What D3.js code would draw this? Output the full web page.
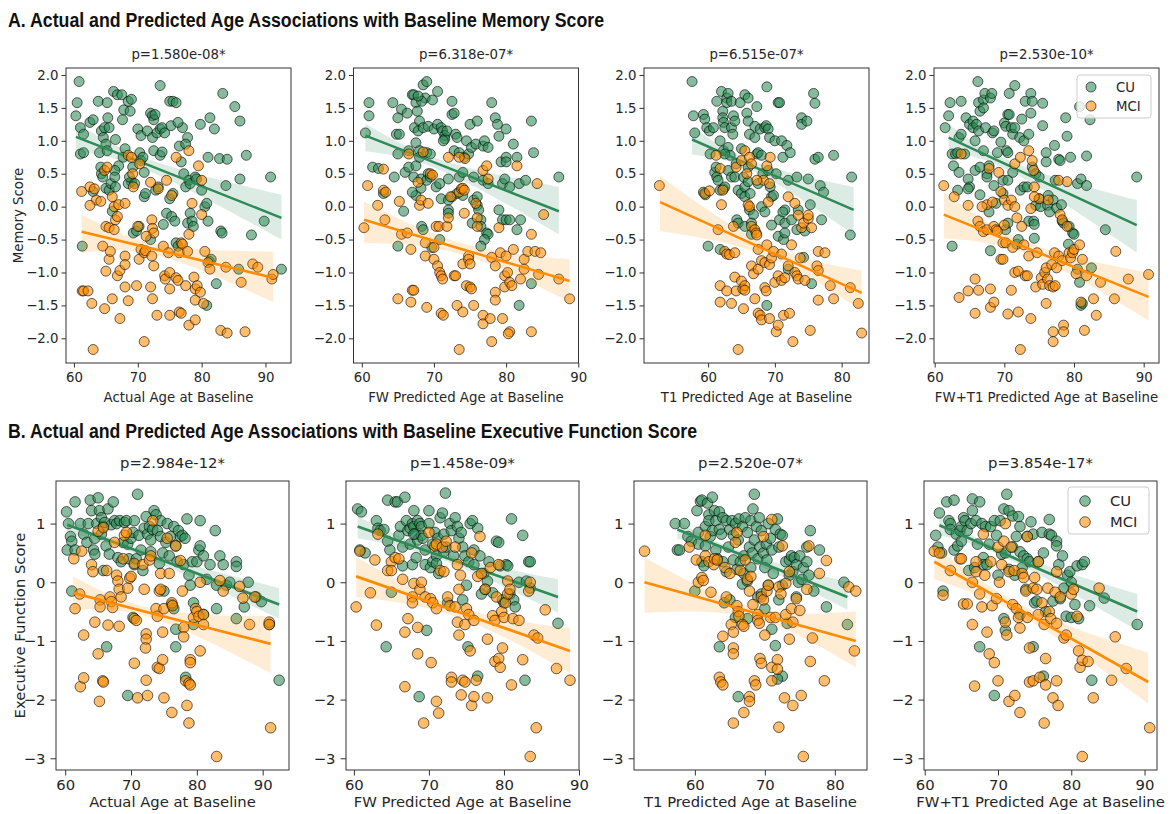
<!DOCTYPE html>
<html>
<head>
<meta charset="utf-8">
<script src="https://cdn.jsdelivr.net/npm/d3@7"></script>
<style>
  body { margin: 0; background: #fff; }
  svg text { font-family: "DejaVu Sans", Verdana, sans-serif; fill: #262626; }
  .section { font-family: "Liberation Sans Narrow", "Arial Narrow", "Liberation Sans", Arial, sans-serif; font-weight: bold; fill: #111; }
</style>
</head>
<body>
<svg id="chart" width="1172" height="814"></svg>
<script>
// ---------------------------------------------------------------
// data: [age, score]
// ---------------------------------------------------------------

// A. memory vs actual age
var memActualCU = [[60.8,1.9],[60.5,1.58],[60.3,1.38],[61,1.2],[61.5,1.1],[61,0.8],[61.5,0.82],[62.5,1.28],[63,1.32],[63.8,1.6],[64.3,1.15],[64.6,1.05],[64.8,1.2],[65.2,1.58],[65.3,1.35],[65.5,1.2],[65,0.95],[64,0.82],[64.2,0.6],[64.3,0.5],[64.5,0.45],[65,0.28],[65.5,0.25],[65.8,0.35],[65.2,0.85],[66.2,1.75],[66.8,1.7],[67.5,1.7],[66.5,1.02],[67.8,1.47],[67.6,1.32],[68,0.88],[67.7,0.75],[67,0.62],[66.4,0.55],[66.4,0.45],[66,-0.07],[68.5,1.6],[69,1.63],[68.8,1.45],[69.2,0.6],[69,0.38],[68.5,0.35],[68.7,0.45],[69.5,0.35],[69.3,-0.4],[69.8,-0.37],[70,1.18],[70.5,1.08],[70.3,0.82],[70.5,0.7],[70.8,0.75],[71,0.52],[71,0.15],[71.2,0.2],[70.2,-0.3],[71.5,1.15],[72,1.42],[72.3,1.38],[72.5,1.32],[72.7,1.4],[72.3,1.05],[72,-0.5],[72.5,0.85],[72.8,0.25],[73.2,0.3],[73.5,1.84],[73,1.12],[73.5,1.18],[73.8,1.2],[74.2,1.12],[73.5,0.78],[73.8,0.83],[74,-0.27],[74.5,-0.1],[75,1.6],[75.5,1.6],[75.2,1.23],[76,1.58],[75,0.12],[75.3,-0.15],[75.5,0.2],[75.8,-0.22],[76,-0.55],[76.3,-0.6],[76.5,0.92],[76.8,0.68],[77,1.2],[77.2,0.5],[77.5,0.3],[77.8,1.05],[77.5,0.95],[78,0.4],[78.2,0.35],[77.8,-0.25],[78.2,-0.1],[78.5,-0.22],[78.7,-0.3],[79,0.45],[79.2,0.42],[79.8,1.25],[80,0.25],[80.5,0],[80.8,0.05],[81,0.75],[81,-0.22],[81.3,1.35],[81.2,-0.83],[81.5,-0.8],[80.8,-1.5],[82,1.18],[82.3,-1.17],[82.8,0.73],[83,-0.37],[83.2,-0.4],[83.3,1.72],[83.8,0.32],[84,0.72],[85.2,1.52],[86,1.3],[86,0.42],[85.8,-0.95],[87,0.78],[87.8,-0.43],[89.8,-0.22],[90.8,0.45],[92.5,-0.95],[61.3,-0.6],[63,0.23],[66.5,0.3],[76.3,1.28]];
var memActualMCI = [[61.2,0.23],[62.5,0.3],[63.5,0.1],[62.5,0.02],[63.2,0.27],[64.2,0.08],[64.8,0.55],[65.2,0.6],[65,-0.3],[65.5,-0.32],[66,0.15],[66.3,0],[66.5,-0.2],[66.8,-0.15],[66.3,-0.35],[67,0.03],[68,0.05],[68.5,0.78],[69,0.75],[69.2,0.5],[69.3,0.3],[70,-0.3],[70.3,0.65],[70.5,-0.65],[70.2,-0.8],[71,-0.7],[71.2,-0.67],[72,0.37],[72.2,-0.2],[72.3,-0.33],[72.5,-0.4],[72.2,-0.75],[72.5,-0.9],[72,-1.22],[72.3,-1.4],[73,-1.65],[73.2,0.27],[74,-0.6],[74.2,-1.05],[74.3,-1.1],[74.5,0.4],[74.8,-0.7],[75,-1.0],[75,-1.25],[75.3,0.17],[75,-1.65],[76,0.75],[76,-1.08],[76.3,-1.12],[76.5,-0.7],[76.5,-1.6],[76.8,-1.62],[76.8,-0.55],[77,-0.57],[77.5,-1.2],[77.8,-0.68],[78,0.85],[78,-0.42],[78,-1.8],[78.5,0.05],[78.8,-1.07],[79,-1.25],[79,-1.42],[79,-1.72],[79.3,-1.2],[79.5,0.62],[79.8,-1.3],[80,-0.12],[80,0.4],[80.3,-1.47],[80.5,-0.68],[81,-0.85],[81.3,-0.95],[61.3,-1.28],[61.5,-1.28],[62.2,-1.28],[62.8,-1.47],[63,-2.17],[64.5,-0.6],[64.8,-1.55],[65,-0.98],[65.5,-0.8],[65.7,-0.68],[66,-1.4],[66.8,-1.05],[67.2,-0.97],[67.2,-1.7],[68,-0.75],[68,-0.88],[68,-1.22],[68.5,-1.43],[69.8,-1.2],[71,-2.05],[83,-1.88],[83.8,-0.92],[84,-1.92],[86.2,-1.15],[86.8,-1.9],[88,-0.87],[88.8,-0.92],[91,-1.1],[91.2,-1.03],[71.3,-0.45]];

// A. memory vs FW predicted age
var memFwCU = [[60.5,1.12],[61,1.58],[61,1.38],[61.5,0.6],[62.3,0.58],[63,0.2],[64.3,1.58],[64.5,0.45],[64.8,1.1],[65,1.35],[65,0.8],[65.2,1.1],[65.5,1.48],[65.8,-0.07],[66,0.52],[66.3,1.42],[66.5,0.85],[66.5,0.6],[67,1.7],[67.2,1.7],[67.5,1.58],[67.3,1.2],[67.5,0.97],[67.5,0.62],[67.2,0.45],[67.5,0.17],[67,0.22],[67.7,1.45],[68,1.3],[67.8,1.15],[68,0.85],[68,0.75],[68.2,0.28],[68.5,1.85],[68.8,1.65],[68.3,1.6],[68.5,1.2],[68.2,0.42],[68.3,-0.3],[68.5,-0.35],[69,1.9],[69.2,1.22],[69,0.82],[69.2,0.5],[69,0.4],[69.5,0.8],[69.5,0.45],[69.8,1.62],[70,1.18],[70.5,1.75],[70.5,1.25],[70.3,0.3],[70.8,0.35],[71,1.2],[71,0.12],[71.2,1.15],[71.5,1.08],[71.5,1.03],[71.8,1.15],[72,0.42],[72,0.1],[72,-0.05],[72,-0.1],[72.5,1.6],[72.5,1.4],[72.8,1.42],[72.5,0.15],[72.8,0.85],[73,1.1],[73.2,1.05],[73.5,0.82],[73.5,0.45],[73.2,0.2],[74,0.52],[74,0.17],[74.2,0.75],[74.5,1.0],[74.8,0.8],[75,1.25],[75.2,0.9],[75.5,0.45],[75.5,0.1],[75.3,-0.25],[75.8,0.95],[76,1.3],[76,0.02],[76,0.15],[76.2,-0.05],[76.5,-0.2],[76.8,0.4],[76.5,-0.3],[76.8,0.92],[77,1.0],[77.5,0.9],[77.3,-0.4],[77.5,-0.42],[77,-0.5],[76.5,-0.6],[77.5,0.35],[78,1.58],[78.5,1.35],[78.8,1.25],[79,1.07],[79.3,0.68],[79.5,0.35],[79.8,0.42],[80,1.18],[80,0.75],[80,0.68],[80.5,0.3],[79.5,-0.2],[80,-0.2],[80.5,-0.2],[79,-0.05],[81,0.95],[81.5,0.75],[81.8,0.35],[81.5,-0.35],[82,-0.2],[81.8,-1.5],[82.7,0.4],[83.5,1.3],[83.8,0.82],[83.5,-1.17],[87.3,0.45],[65,-0.6],[70.8,-0.5],[69.7,-0.62],[71.3,1.0],[67.8,1.68]];
var memFwMCI = [[60.3,-0.32],[60.8,0.32],[62.2,0.02],[63,0.57],[63,0.25],[63.2,-0.2],[63.3,0.22],[65.2,0.08],[65.5,-0.42],[66.3,-0.4],[66.5,0.8],[66.8,-0.65],[67,-1.27],[67.2,-1.27],[66.8,-1.45],[65,-1.4],[67.8,0.37],[68,0.02],[68.2,0.1],[68.5,0.83],[68.8,-0.55],[68.8,-0.75],[69.2,0.05],[69,-1.53],[69.5,0.5],[69.8,0.48],[70,-0.62],[70,-0.8],[70.3,-0.3],[70.5,-0.9],[70.7,-0.3],[70.8,-1.0],[71,-1.05],[71.2,-1.1],[71,-1.62],[71.3,-1.65],[71.8,-0.3],[72,0.75],[72,-0.17],[72.3,0.15],[72.8,-1.05],[73,-1.05],[73.2,-1.5],[73.5,-2.17],[73.5,0.22],[73.8,0.27],[74,0.28],[74,-0.87],[74.2,-0.1],[74.3,0.73],[74.5,-1.2],[74.8,-0.75],[74.8,-0.8],[75,-0.87],[75,-1.22],[75.2,-1.25],[75.5,-1.5],[75.8,0.05],[76,-0.17],[76,-0.3],[74,-1.6],[76.8,0.55],[76.8,-1.65],[76.8,-1.78],[77.3,0.62],[77.5,0.42],[77.8,-1.7],[78,-2.05],[78,-0.77],[78.5,-0.9],[78.5,-1.3],[78.5,-1.42],[79,-0.32],[79.2,-0.7],[79.5,-1.7],[79.8,-1.05],[79.8,-1.22],[80,-0.75],[80.2,-1.0],[80.5,-1.15],[80.5,-1.9],[80.3,-1.93],[80.8,-1.2],[81,-0.65],[81.5,0.62],[82,-1.1],[82.5,-0.8],[82.5,-0.95],[83,-0.68],[83.5,-0.42],[83.5,-1.9],[84,-0.68],[84.3,0.35],[84.5,-1.03],[84.8,-0.7],[85.2,-0.12],[87.3,-1.1],[88.8,-1.4],[73.5,0.75],[74.2,0.25]];

// A. memory vs T1 predicted age
var memT1CU = [[57.6,1.9],[57.8,1.38],[58,1.12],[59.3,1.4],[59.5,1.33],[59.8,1.2],[60.2,1.15],[59.3,0.22],[59.6,0.18],[60,-0.6],[60.3,0.8],[60.8,1.2],[61,0.52],[61.2,0.6],[61.3,0.45],[61.5,0.4],[61.3,1.6],[61.8,1.0],[61.8,0.25],[61.8,-0.65],[62,1.75],[62.2,1.45],[62.2,1.35],[62.3,1.28],[62.5,1.2],[62.3,0.85],[62.3,0.27],[62.5,0.3],[62.8,1.65],[62.8,1.58],[63,1.72],[63,0.9],[63.3,0.78],[63.5,1.6],[63.5,1.2],[63.7,1.1],[63,0.55],[63.8,1.38],[63.5,0.45],[64,1.3],[64,0.45],[64.2,0.65],[64.3,-0.2],[64.5,0.25],[64.5,-0.25],[64.8,1.58],[65,0.88],[65,0.2],[65.3,0.45],[65.5,1.7],[65.8,1.42],[65.5,0.3],[65.5,0.15],[65.5,-0.3],[66,1.65],[66,1.3],[66.2,1.1],[66,0.38],[66.3,0.2],[66.2,-0.05],[66.8,-0.12],[66.5,-0.25],[66.5,-0.42],[67,1.22],[67,1.05],[67.3,0.8],[67.5,0.82],[67.5,0.35],[67.3,1.52],[67.8,1.18],[68,0.78],[68,0],[68.2,0.5],[68.5,1.2],[68.7,1.23],[68.8,1.82],[68.5,-0.08],[69,1.18],[69,0.55],[69.2,1.05],[69.3,0.3],[69.5,0.15],[69.5,-0.28],[69.8,0.17],[70,1.0],[70.2,0.5],[70.5,1.58],[70.7,1.58],[70.5,-0.45],[70.7,-0.2],[71,1.0],[71.2,0.75],[71.3,-0.5],[71.5,-0.05],[71.5,-0.25],[71.8,0.93],[71.2,-0.08],[71.5,-0.4],[72,0.4],[72,-0.95],[72.3,0.82],[72.5,-0.2],[73.3,0.45],[73.5,-0.05],[73.3,-0.35],[74,1.35],[74,1.25],[74.5,-0.37],[74.3,-0.77],[74.8,1.3],[75,0.42],[75.3,0.03],[75.8,1.72],[76,1.57],[75.5,-1.17],[76,0.72],[76.5,0.75],[76.8,0.32],[77,-0.2],[77.3,0.22],[78.8,0.78],[81.5,0.45],[81.3,-0.43],[68.8,-1.5],[62.5,0.8],[66,0.6]];
var memT1MCI = [[52.7,0.32],[59.5,0.2],[60.2,0.24],[61.5,-0.35],[61.2,0.78],[61.8,0.58],[62,0.03],[62.2,0.25],[62.5,-0.68],[62.8,-0.72],[63.2,-0.73],[63.8,-0.3],[64,-0.7],[64.2,0.6],[61.8,-1.2],[61.8,-1.45],[62.8,-1.28],[63.5,-1.47],[64,-1.07],[64.2,-1.28],[64.5,-2.17],[65,-1.13],[65.2,-1.25],[65.5,-1.2],[65.5,-1.27],[65.3,-1.55],[65,0.7],[65.5,0.85],[65.8,0.5],[66,0.03],[66.2,0],[66.2,0.75],[66.5,-0.3],[66.5,-0.9],[66.8,-1.02],[67,-1.4],[67,-0.35],[67.2,-0.4],[67.3,-0.43],[67.5,-0.65],[67.5,-0.95],[67.5,-1.62],[67.8,-1.65],[68,-1.72],[68,-0.82],[68.3,0.4],[68.5,-0.85],[68.5,-1.23],[68.7,-1.28],[68.8,0.62],[69,0.07],[68.8,-0.58],[69.2,-0.88],[69.3,0.75],[69.2,0.35],[69.5,-0.78],[69.2,-1.7],[69.8,-0.68],[70,-1.15],[70.2,-1.9],[70.5,-1.8],[70.5,-1.05],[71,-0.72],[71,-1.12],[71.3,-1.65],[71.5,-1.08],[72,0.15],[72,-0.9],[72.2,-1.62],[72.5,-0.58],[72.7,-2.05],[73,0.05],[73,-1.0],[73.3,-1.05],[73.5,-0.13],[73.5,-1.1],[73.8,-0.78],[74,-0.32],[74.3,-0.25],[74.5,-1.12],[75,-0.18],[75,-0.13],[75.3,-1.88],[75.5,-0.32],[76.3,-0.9],[76.5,-0.97],[76.5,-1.42],[76.5,-0.68],[77.5,-0.7],[78.3,-1.2],[78.8,-1.4],[81.3,-1.23],[82.5,-1.47],[83,-1.92],[66.5,0.65],[67.3,0.4]];

// A. memory vs FW+T1 predicted age
var memBothCU = [[61.5,1.2],[62.2,1.58],[62,1.38],[62.5,0.8],[62.7,0.62],[63,0.8],[63.3,0.82],[63.3,0.25],[63.5,1.05],[63.8,1.6],[63.8,1.1],[63.5,0.52],[62.5,-0.6],[64.3,0.8],[64.5,1.35],[64.8,0.42],[65,0.3],[64.8,0.27],[65,1.25],[65.5,1.3],[65.5,1.2],[65.8,1.0],[65.8,0.55],[66.2,1.9],[66,1.25],[66.3,1.58],[66.5,1.45],[66.3,1.15],[66.5,0.6],[66.5,0.18],[67,1.62],[67,1.5],[67.2,1.72],[67,0.85],[67.3,1.2],[67.5,0.5],[67.5,0.45],[67.8,0.62],[67.8,-0.08],[68,1.65],[68.2,1.72],[68,-0.67],[68.3,1.12],[68.5,1.15],[68.5,0.32],[68.8,0.05],[69,0.82],[69.5,0.98],[69.8,0.4],[69.8,0.2],[70,1.27],[70.2,1.22],[70.5,1.4],[70.3,0.85],[70.5,0.82],[70.5,0.4],[70.2,-0.35],[70.5,-0.25],[70.7,1.72],[70.7,1.4],[71,1.2],[71.2,1.1],[71.2,0.52],[71.5,1.84],[71.5,1.2],[71.8,-0.57],[72,-0.5],[72.2,1.05],[72.3,0.25],[72.5,1.33],[72.8,1.0],[72.8,0.3],[73,1.6],[73.3,0.3],[73.5,1.1],[73.5,-0.22],[73.8,1.42],[73.8,1.72],[74,1.6],[74,0.6],[74.2,-0.22],[74.3,-0.27],[74.5,0.5],[74.5,0.02],[74.3,-0.48],[75,0.45],[75,0.12],[75.2,0],[75.5,1.23],[75.5,1.57],[76,0.82],[76,0.68],[76.3,0.17],[76.2,0.02],[76.5,-0.08],[77,0.1],[77.2,0.93],[77.3,0.4],[77.5,-0.02],[77.8,0.72],[78,0.7],[78.2,0.03],[78.3,-0.22],[78.5,-0.25],[78.8,1.35],[79,1.07],[79.2,-0.57],[79.5,0.75],[79.3,-0.3],[79.8,-0.4],[80,-0.42],[80.5,0.35],[80.5,-0.95],[80.8,1.52],[80.8,-1.15],[81,0.42],[81,-1.5],[81.2,-1.47],[81.8,0.32],[81.8,0.77],[82.3,1.32],[82.5,-0.93],[84.5,-0.35],[89,0.45]];
var memBothMCI = [[61.3,0.32],[62.8,0.15],[63.8,0.8],[64.8,0.02],[63.5,-1.38],[64.8,-1.28],[65.8,-1.62],[65.8,-1.1],[66.3,-1.27],[66.2,-0.22],[66.5,-0.3],[67,-0.38],[67.5,-0.35],[67.5,0.03],[67.8,0.58],[68,-1.25],[68,-1.53],[68.3,0.07],[68.5,-1.45],[68.5,-0.3],[68.8,-0.35],[69,-0.37],[69.2,0.52],[69.5,0.23],[69.5,-0.8],[69.8,-0.8],[69.8,-0.55],[70,0.1],[70,-0.28],[70.2,-0.55],[70.5,0.02],[70.5,-1.63],[71,0.1],[71,-1.27],[71.2,-0.62],[71.5,0.65],[71.5,0.0],[71.5,-1.0],[71.8,-0.17],[72,-0.98],[72.3,0.75],[72,-1.6],[72.3,-2.17],[72.5,-0.3],[72.8,-0.58],[73,-1.05],[73.3,-1.05],[73.5,0.85],[73.5,-0.75],[73.8,-1.7],[73.8,-0.03],[74,0.7],[74.2,0.55],[74.3,0.3],[74.5,-1.22],[74.7,-0.7],[75,0.12],[75.3,-1.08],[75.5,-1.18],[75.8,-1.0],[76,-0.93],[76,-1.47],[76.2,-1.1],[76.3,0.1],[76.5,-1.2],[76.8,-0.88],[77,-1.22],[77.2,-0.7],[77.3,-1.2],[77.5,-0.93],[77,-1.9],[77,-2.05],[77.8,-0.75],[77.8,0.4],[78,-0.12],[78.3,-0.2],[78.3,-0.82],[78.5,-1.8],[78.5,-1.9],[79,0.38],[79,-0.3],[79.3,-0.7],[79.5,-0.78],[79.8,-0.7],[80,-0.65],[80.3,-1.02],[80.8,-0.58],[81,-1.45],[81.2,-0.8],[81.5,-1.88],[81.8,-1.05],[82.8,-1.4],[83.2,-1.65],[83.8,-1.15],[86,-0.68],[85.8,-1.4],[87.8,-1.1],[90.7,-1.03],[74.3,0.15],[66.8,0.0]];

// B. executive function vs actual age
var execActualCU = [[60.2,1.2],[60.3,0.55],[60.5,1.0],[60.8,0.78],[61,0.7],[61.5,0.55],[61.5,1.37],[62.3,1.0],[62.8,0.82],[63.3,0.68],[63.5,1.0],[63.8,1.4],[64,1.22],[64.3,0.55],[64.5,0.48],[64.5,0.75],[64.8,1.0],[65,1.44],[65.2,1.22],[65.5,1.1],[65.5,0.82],[65.8,0.95],[65.8,0.2],[66,1.02],[66.2,0.62],[66.5,1.25],[66.7,0.48],[67,0.98],[67.3,1.37],[67.5,1.05],[67.8,1.0],[68,0.42],[68.3,1.05],[68.5,0.35],[68.8,0.68],[69,1.02],[69.3,1.05],[69.5,0.65],[69.7,0.4],[70,0.75],[70.3,0.85],[70.5,1.05],[70.5,0.3],[70.8,0.4],[71,1.5],[71.2,0.8],[71.5,0.55],[71.8,0.2],[72,0.92],[72.3,1.12],[72.5,0.82],[72.8,0.95],[73,0.72],[73,0.52],[73.3,0.9],[73.5,1.22],[73.8,1.15],[74,0.88],[74.3,0.32],[74.5,1.05],[74.5,0.78],[74.8,0.5],[75,-0.15],[75.3,0.68],[75.5,1.0],[75.8,0.45],[76,0.78],[76.2,-0.38],[76.5,0.95],[76.5,-0.45],[76.8,0.62],[77,0.35],[77.2,0.88],[77.5,0.78],[77.8,0.8],[78,0.3],[78.2,0.75],[78.5,1.08],[78.8,0.12],[79,-0.05],[79.3,0.35],[79.5,-0.35],[80,0.35],[80.3,0.55],[80.5,1.05],[80.5,0.62],[81,0.45],[81,-0.55],[81.5,0.05],[82,0.3],[82.8,0.88],[83,-0.05],[83,-0.45],[83.5,0.45],[84,0.3],[84.5,-0.05],[85,0.0],[86,0.35],[86,0.27],[86,-0.62],[87.2,-0.42],[87.8,0.0],[89,-0.25],[89.8,-0.33],[91,-0.72],[92.5,-1.67],[66.3,-1.1],[69.5,-1.93],[76.8,-1.1],[76.8,-0.8],[78.3,-1.62],[61,-0.15],[79.5,-0.72],[70.3,-0.6]];
var execActualMCI = [[61.3,0.4],[61.5,-0.45],[62.2,-0.2],[62.3,-1.78],[62.8,-0.9],[62.8,-1.63],[62.5,0.53],[64,0.3],[64.2,0.18],[64.5,-0.68],[65,0.87],[65.3,-0.3],[65.3,-0.42],[65,-1.22],[65.2,-2.03],[65.7,-1.68],[65.8,-1.7],[66.3,0.2],[66.5,-0.73],[66.8,-0.25],[67,-0.33],[67.2,-0.43],[67.8,0.12],[68,0.02],[68.2,-0.12],[68.2,-0.75],[68.5,-0.25],[68.8,0.4],[69,0.8],[69.3,0.85],[69.5,-0.1],[69.8,0.07],[70,0.1],[70.5,0.32],[70.5,-0.62],[70.8,-0.65],[70.5,-1.38],[71,-1.97],[71.8,0.3],[72,-0.12],[72.3,-0.88],[72.3,-0.97],[72.2,-1.12],[72.3,-1.67],[72.5,-1.93],[72.8,0.38],[73,0.45],[73.3,1.05],[73.8,-0.45],[74,-0.58],[74,-1.45],[74.3,-1.47],[74.3,-0.15],[74.5,-0.12],[74.5,0.15],[74.8,-1.32],[74.8,-0.85],[75,-0.45],[75,-1.97],[75.5,0.75],[75.8,0.15],[76.2,-0.35],[76.3,-0.4],[76.2,-2.22],[76.8,0.62],[77.5,0.37],[77.8,-0.15],[78,-0.77],[78,-0.93],[78.3,-1.68],[78.5,-2.1],[78.8,-1.72],[79,-1.75],[79,-1.32],[79,-1.37],[78.8,-2.4],[79.5,-0.6],[79.8,-0.45],[80,-0.5],[80.3,-0.58],[80.5,0.0],[80.5,-1.17],[81,-0.55],[81,-0.72],[83,-2.97],[83.5,0.03],[84,-0.15],[86.5,-0.07],[87,-0.27],[88,-0.72],[88.8,-0.25],[91,-0.68],[91,-0.72],[91.2,-2.48],[67.5,0.68],[65.8,0.93]];

// B. executive function vs FW predicted age
var execFwCU = [[60.5,1.25],[61,1.2],[61.5,0.5],[60.8,0.55],[63,1.05],[63.2,0.92],[63.5,0.88],[64,0.9],[64.3,-1.1],[64.5,1.4],[64.5,0.7],[64.8,0.55],[65,-0.17],[65.5,1.37],[65.8,1.37],[66,0.8],[66.2,0.95],[66.5,0.6],[66.5,0.28],[66.8,1.45],[67,1.05],[67.2,0.88],[67.5,0.92],[67.5,0.65],[67.8,1.0],[67.8,0.3],[68,1.22],[68,0.95],[68.2,0.82],[68.3,0.42],[68.5,1.05],[68.5,0.72],[68.8,1.0],[68.7,-1.95],[69,0.95],[69,0.8],[69.2,0.75],[69.5,0.55],[69.5,0.3],[69.7,-0.82],[70,1.0],[70,1.22],[70.2,0.25],[70.5,0.65],[70.5,0.35],[70.8,0.85],[71,0.45],[71.2,0.75],[71.3,0.15],[71.5,1.1],[71.8,1.18],[72,0.82],[72,0.52],[72.2,1.52],[72.3,0.6],[72.5,-0.35],[72.8,1.0],[73,0.88],[73.3,0.45],[73.5,1.1],[73.8,0.95],[74,0.75],[74.3,0.85],[74.5,0.6],[74.8,0.45],[74.5,-0.3],[75,-0.05],[75.2,-1.1],[75.3,0.35],[75.5,1.0],[75.8,1.05],[76,0.55],[76,0.3],[76.5,0.92],[76.8,0.45],[77,-0.2],[77.3,0.15],[77.5,-0.12],[77.8,0.02],[78,0.35],[78.5,-0.18],[79,0.7],[79.3,0.68],[79.5,0.28],[79.8,-0.3],[80,-0.35],[80.3,0.3],[80.5,0.28],[80.8,-0.2],[81,1.08],[81.3,-0.3],[81.5,-0.42],[82,0.0],[82.5,0.8],[82.8,-1.67],[83.3,0.35],[83.5,0.35],[83.5,-0.1],[83,0.02],[76.5,-1.6],[87.2,-0.7],[68,0.82],[71,0.32]];
var execFwMCI = [[60.3,-0.42],[60.8,0.53],[62.2,-0.18],[62.8,0.38],[63,-0.73],[63.2,0.82],[64.5,0.2],[65,0.35],[65,0.2],[65.5,0.42],[66,0.4],[66.5,0.05],[66.8,-0.85],[66.8,-1.78],[67.2,-0.62],[67.8,-0.25],[67.8,-0.35],[68,-0.02],[68.5,-0.77],[68.5,-1.22],[68.8,-0.12],[69,0.0],[69.5,-0.25],[69.3,-2.4],[70,0.85],[70.2,-0.28],[70.3,-1.37],[70.5,-0.35],[70.8,0.62],[71,0.65],[71,-0.45],[71,-2.03],[71.3,-2.23],[71.5,0.2],[71.8,0.6],[72,0.18],[72.3,0.7],[72.5,-0.25],[72.8,-0.4],[73,-1.62],[73,-1.7],[73.5,0.6],[73.5,-0.42],[73.8,0.3],[73.8,-0.68],[74,-0.9],[74.2,0.12],[74,-0.12],[74.3,-1.92],[74.5,-1.67],[74.8,-1.7],[74.8,-0.72],[75,-0.45],[75.3,-0.55],[75.5,-1.17],[75.7,-2.1],[76,-0.65],[76,-1.95],[76.3,-1.67],[76.5,0.1],[76.8,0.78],[77,0.15],[77.5,-0.12],[77.8,-0.97],[77.8,-1.97],[78.2,0.25],[78.5,-0.57],[78.8,-0.65],[79,-0.25],[78.8,-1.35],[79.3,-1.3],[79.5,-1.45],[79.3,0.3],[79.7,-0.5],[79.8,-1.12],[80,-0.6],[80.2,-0.35],[80.5,0.02],[80.5,-0.2],[80.8,-0.12],[81,-1.75],[81.2,-0.62],[82,-0.65],[82.5,-1.32],[83.3,-0.15],[83.5,0.0],[83.5,-2.97],[84,-0.9],[84.3,-2.48],[84.5,-0.95],[85.5,-0.47],[87,-1.47],[88.8,-1.67],[75.7,0.5]];

// B. executive function vs T1 predicted age
var execT1CU = [[57.2,1.0],[57.5,0.55],[57.8,0.55],[58.5,1.0],[59,0.78],[59.5,0.7],[60,-0.15],[60.3,1.22],[60.5,0.85],[60.5,0.65],[60.8,1.38],[61,1.4],[61,0.35],[61.3,0.28],[61.5,0.95],[61.5,0.62],[61.8,1.35],[62,1.15],[62,1.05],[62.2,0.78],[62.5,1.45],[62.5,0.88],[62.8,1.22],[63,1.05],[63,0.55],[63.2,0.4],[63.5,1.2],[63.5,0.9],[63.5,-1.1],[63.8,0.82],[64,1.1],[64,0.35],[64.2,-0.35],[64.5,1.05],[64.5,0.18],[64.8,0.6],[65,0.9],[65,-0.3],[65.3,1.05],[65.5,0.38],[65.5,0.8],[65.8,1.0],[65.8,-0.6],[66,0.22],[66.2,0.72],[66.3,1.08],[66.5,0.35],[66.2,-1.95],[66.8,0.95],[66.8,-0.03],[67,0.45],[67,0.15],[67.2,1.1],[67.5,0.85],[67.5,0.02],[67.5,-0.62],[67.8,0.6],[68,1.05],[68,0.25],[68.2,0.5],[68.5,1.5],[68.3,1.25],[68.5,0.72],[68.8,0.95],[69,0.4],[69,-0.25],[69.2,1.1],[69.3,0.6],[69.5,0.88],[69.5,-0.2],[69.8,0.5],[70,0.25],[70,-0.45],[70.2,0.65],[70.3,0.38],[70.5,1.0],[70.5,-0.05],[70.8,0.75],[71,0.55],[71,-0.8],[71.2,0.15],[71.5,-1.08],[71.5,0.9],[71.8,1.08],[72,0.6],[72,-0.3],[72.2,0.82],[72.5,0.8],[72.5,-0.05],[72.5,-1.6],[71.8,-1.65],[73,0.35],[73.2,-0.7],[73.5,0.38],[73.5,0.12],[73.8,0.45],[74,0.18],[74.2,0.42],[74.5,0.3],[74.5,-0.25],[74.8,0.0],[75,0.45],[75.3,0.05],[75.5,0.25],[76,0.6],[76,0.35],[76.3,0.12],[76.5,0.88],[77,-0.15],[77.8,0.55],[78.8,-0.42],[81.3,0.0],[81.8,-0.72]];
var execT1MCI = [[52.8,0.53],[59.2,0.6],[60.2,0.38],[60.5,0.0],[61,0.08],[61.2,0.03],[61.5,0.8],[61.5,0.45],[62,0.35],[62.3,-0.17],[62.7,0.3],[62.8,0.4],[63.2,0.38],[63.5,-1.62],[63.7,-1.7],[64,-1.75],[64,-0.92],[64.3,0.25],[64.5,-0.25],[65,0.15],[65.2,-0.72],[65.5,-0.85],[65.5,-1.12],[65.5,-1.22],[65.5,-2.4],[65.8,0.68],[66,0.85],[66,-0.4],[66.2,-0.5],[66.3,-0.58],[66.5,0.2],[66.8,-0.72],[67,-0.75],[67,-2.22],[67.2,0.38],[67.5,0.05],[67.8,-0.15],[67.8,-1.95],[67.8,-2.03],[68,0.1],[68.3,-0.38],[68.5,-1.68],[68.7,-1.75],[69,-0.55],[69,-0.65],[69.2,-0.7],[69.3,-1.3],[69.5,-0.25],[69.5,-1.38],[69.8,-0.3],[69.8,0.78],[70,-0.9],[70.3,-0.15],[70.5,-0.05],[70.8,-0.6],[71,-1.45],[71,-1.68],[71.5,-0.6],[71.8,-1.32],[71.8,-1.48],[72,-0.08],[72,-2.47],[72.3,-0.2],[72.8,-1.97],[73,-0.02],[73,-0.55],[73.5,-0.97],[73.5,0.18],[73.8,-0.45],[74,-0.68],[74,-2.1],[74.5,-0.28],[75,-0.48],[75.2,-1.93],[75.5,-2.97],[76,-0.12],[76.3,0.62],[76.5,-1.35],[76.8,-0.95],[77.8,0.15],[78.5,-1.68],[78.8,0.37],[82,-0.08],[83,-0.15],[82.8,-1.17],[71,1.07],[72.5,0.62]];

// B. executive function vs FW+T1 predicted age
var execBothCU = [[61.5,0.8],[61.8,0.6],[62,1.18],[62.3,0.5],[62.5,-0.15],[63,1.37],[63.3,1.05],[63.5,1.0],[63.5,0.9],[64,1.4],[64,0.55],[64.3,0.82],[64.5,0.62],[64.8,0.88],[65,0.95],[65,0.7],[65.3,1.1],[65.5,1.05],[65.8,0.88],[66,0.2],[66.3,1.0],[66.5,1.42],[66.5,1.22],[66.8,0.25],[67,1.05],[67.2,0.65],[67.5,-1.1],[67.5,1.37],[67.8,1.0],[68,0.42],[68,0.3],[68.3,0.95],[68.5,0.3],[68.8,0.65],[69,0.95],[69.5,1.05],[69.5,-1.93],[69.8,0.8],[70,0.12],[70.3,1.05],[70.5,0.48],[70.8,1.25],[70.8,-0.62],[71,0.5],[71,-0.82],[71.2,1.5],[71.5,1.22],[71.5,0.22],[72,1.13],[72,0.6],[72.3,0.12],[72.5,0.78],[72.8,1.12],[73,0.95],[73,0.52],[73.3,0.25],[73.5,0.45],[73.8,-0.12],[74,0.4],[74,0.78],[74.3,0.35],[74.5,1.03],[74.8,0.82],[75,-0.35],[75.3,-0.32],[75.5,0.35],[76,0.85],[76.2,0.5],[76.2,-1.6],[76.5,-0.5],[77,1.07],[77,0.82],[77.3,0.8],[77.5,-0.32],[78,0.7],[78,0.62],[78.3,0.3],[78.5,-0.28],[78.8,0.45],[79,-0.1],[79.3,-0.58],[79.5,0.12],[79.8,0.18],[80,0.0],[80,-0.6],[80.5,-0.38],[80.8,0.28],[81,-0.62],[81.5,0.3],[81.8,0.35],[82.5,-0.4],[82.8,-1.67],[84.5,-0.27],[89,-0.72],[74.8,-1.1],[73,-0.55]];
var execBothMCI = [[61.3,0.53],[62,0.5],[62.5,-0.22],[63.5,0.2],[64.8,0.4],[65,0.4],[65.3,-0.37],[65.8,-0.37],[66.5,0.0],[66.5,-0.72],[66.8,-1.77],[67,0.35],[67,0.18],[67.5,-0.2],[67.8,-0.42],[68,0.82],[68.2,0.12],[68.5,-0.85],[68.8,-1.22],[69,0.35],[69.2,-0.4],[69.5,-1.37],[69.8,-0.28],[70,0.6],[70,-1.68],[70.2,0.0],[70.5,0.3],[70.8,0.7],[71,-0.68],[71.2,-0.9],[71.5,0.18],[71.5,-2.03],[71.8,0.6],[72,-0.38],[72.2,0.2],[72.3,-1.93],[72.5,-0.45],[72.8,-0.6],[73,-0.78],[73,-2.22],[73.3,0.15],[73.5,0.08],[73.8,-0.15],[74,0.78],[74,-0.6],[74.3,-1.12],[74.3,-1.7],[74.8,-1.68],[74.8,-0.1],[75,0.08],[75.3,-0.12],[75.5,-0.55],[75.7,-1.62],[76,-0.35],[76.3,-0.72],[76.5,-1.3],[76.5,-1.75],[76.3,-2.4],[76.8,-0.1],[77,-0.5],[77.2,-0.62],[77.5,-1.97],[77.8,-0.17],[78,0.18],[78,-0.7],[78,-1.68],[78.2,-2.1],[78.5,-0.25],[79,-0.95],[79.3,-0.9],[80,-0.2],[80.3,-0.12],[80.8,-0.58],[81,-1.17],[81.2,-1.45],[81.5,-1.33],[81.5,-2.97],[82.3,-1.35],[83,-1.97],[83.8,-0.1],[85.5,-1.67],[86,-0.93],[87.5,-1.47],[90.7,-2.48],[71,1.0],[75.5,0.35]];

// regression lines with confidence band: [age, lower, fit, upper]
var memActualRegCU  = [[60.3,0.85,1.06,1.28],[72,0.53,0.62,0.71],[92.5,-0.5,-0.17,0.18]];
var memActualRegMCI = [[61.2,-0.7,-0.38,-0.12],[73,-0.74,-0.655,-0.57],[91.2,-1.45,-1.08,-0.68]];
var memFwRegCU      = [[60.5,0.84,1.08,1.26],[71,0.55,0.63,0.71],[87.3,-0.42,-0.07,0.3]];
var memFwRegMCI     = [[60.3,-0.55,-0.2,0.08],[74,-0.73,-0.65,-0.56],[88.8,-1.45,-1.13,-0.8]];
var memT1RegCU      = [[57.6,0.79,1.02,1.21],[67,0.53,0.6,0.68],[81.8,-0.42,-0.05,0.3]];
var memT1RegMCI     = [[52.8,-0.37,0.07,0.47],[68.5,-0.74,-0.65,-0.56],[83,-1.58,-1.31,-0.97]];
var memBothRegCU    = [[62,0.83,1.05,1.25],[71.5,0.5,0.58,0.66],[89,-0.7,-0.28,0.1]];
var memBothRegMCI   = [[61.3,-0.48,-0.12,0.22],[74,-0.75,-0.66,-0.57],[90.7,-1.73,-1.37,-1.0]];
var execActualRegCU  = [[60.3,0.85,0.98,1.1],[72,0.43,0.49,0.54],[92.5,-0.62,-0.38,-0.1]];
var execActualRegMCI = [[61.2,-0.47,-0.18,0.1],[73.5,-0.62,-0.54,-0.45],[91.2,-1.55,-1.05,-0.58]];
var execFwRegCU      = [[60.5,0.75,0.95,1.12],[72,0.37,0.43,0.5],[87.2,-0.52,-0.25,0.05]];
var execFwRegMCI     = [[60.3,-0.25,0.1,0.43],[74,-0.6,-0.51,-0.42],[88.8,-1.55,-1.17,-0.78]];
var execT1RegCU      = [[57.5,0.74,0.9,1.04],[67,0.39,0.45,0.51],[81.8,-0.47,-0.25,0.0]];
var execT1RegMCI     = [[52.8,-0.52,0.0,0.42],[68.5,-0.62,-0.52,-0.43],[83,-1.45,-1.0,-0.5]];
var execBothRegCU    = [[62,0.8,0.97,1.12],[71.5,0.39,0.45,0.51],[89,-0.82,-0.5,-0.2]];
var execBothRegMCI   = [[61.3,0.05,0.35,0.62],[74,-0.63,-0.54,-0.44],[90.5,-2.07,-1.7,-1.2]];

// labels and ticks
var pTextsMem  = ["p=1.580e-08*", "p=6.318e-07*", "p=6.515e-07*", "p=2.530e-10*"];
var pTextsExec = ["p=2.984e-12*", "p=1.458e-09*", "p=2.520e-07*", "p=3.854e-17*"];
var xLabels = ["Actual Age at Baseline", "FW Predicted Age at Baseline", "T1 Predicted Age at Baseline", "FW+T1 Predicted Age at Baseline"];
var xTicksAge = [60, 70, 80, 90];
var yTicksMem = [-2, -1.5, -1, -0.5, 0, 0.5, 1, 1.5, 2];
var yTicksExec = [-3, -2, -1, 0, 1];
var groups = ["CU", "MCI"];

var svg = d3.select("#chart");
var green = "#2e8b57", orange = "#ff8c00";
var minus = s => s.replace("-", "\u2212");

// section titles
svg.append("text").attr("class", "section")
  .attr("x", 8).attr("y", 27)
  .attr("font-size", 20)
  .attr("textLength", 596).attr("lengthAdjust", "spacingAndGlyphs")
  .text("A. Actual and Predicted Age Associations with Baseline Memory Score");

svg.append("text").attr("class", "section")
  .attr("x", 8).attr("y", 438)
  .attr("font-size", 20)
  .attr("textLength", 689).attr("lengthAdjust", "spacingAndGlyphs")
  .text("B. Actual and Predicted Age Associations with Baseline Executive Function Score");

var clipId = 0;

function drawPanel(p) {
  var g = svg.append("g")
    .attr("transform", `translate(${p.left},${p.top})`);

  var x = d3.scaleLinear().domain(p.xDomain).range([0, p.width]);
  var y = d3.scaleLinear().domain(p.yDomain).range([p.height, 0]);

  var id = "clip" + (clipId++);
  g.append("clipPath").attr("id", id)
    .append("rect").attr("width", p.width).attr("height", p.height);

  var plot = g.append("g").attr("clip-path", `url(#${id})`);

  var band = d3.area()
    .x(d => x(d[0]))
    .y0(d => y(d[1]))
    .y1(d => y(d[3]))
    .curve(d3.curveNatural);

  var fit = d3.line()
    .x(d => x(d[0]))
    .y(d => y(d[2]));

  [[p.cu, p.regCU, green], [p.mci, p.regMCI, orange]].forEach(function(s) {
    plot.append("g").selectAll("circle")
      .data(s[0])
      .enter().append("circle")
      .attr("cx", d => x(d[0]))
      .attr("cy", d => y(d[1]))
      .attr("r", p.r)
      .attr("fill", s[2])
      .attr("fill-opacity", 0.58)
      .attr("stroke", "#000")
      .attr("stroke-opacity", 0.6)
      .attr("stroke-width", 1);

    plot.append("path")
      .datum(s[1])
      .attr("fill", s[2])
      .attr("fill-opacity", 0.17)
      .attr("d", band);

    plot.append("path")
      .datum(s[1])
      .attr("fill", "none")
      .attr("stroke", s[2])
      .attr("stroke-width", p.lw)
      .attr("d", fit);
  });

  // axes
  var xAxis = g.append("g")
    .attr("transform", `translate(0,${p.height})`)
    .call(d3.axisBottom(x).tickValues(p.xTicks).tickSize(p.tick).tickPadding(p.xPad).tickFormat(d3.format("d")));
  var yAxis = g.append("g")
    .call(d3.axisLeft(y).tickValues(p.yTicks).tickSize(p.tick).tickPadding(p.yPad).tickFormat(d => minus(p.yFormat(d))));

  [xAxis, yAxis].forEach(function(a) {
    a.select(".domain").remove();
    a.selectAll("line").attr("stroke", "#333").attr("stroke-width", 1);
    a.selectAll("text")
      .attr("fill", "#262626")
      .style("font-family", "DejaVu Sans, Verdana, sans-serif")
      .style("font-size", p.fs + "px");
  });

  g.append("rect")
    .attr("width", p.width).attr("height", p.height)
    .attr("fill", "none")
    .attr("stroke", "#333")
    .attr("stroke-width", 1);

  // titles
  g.append("text")
    .attr("x", p.width / 2).attr("y", p.titleY)
    .attr("text-anchor", "middle")
    .style("font-size", p.fs + "px")
    .text(p.pText);

  g.append("text")
    .attr("x", p.width / 2).attr("y", p.height + p.xLabelY)
    .attr("text-anchor", "middle")
    .style("font-size", p.fs + "px")
    .text(p.xLabel);

  if (p.yLabel) {
    g.append("text")
      .attr("transform", `translate(${p.yLabelX},${p.height / 2}) rotate(-90)`)
      .attr("text-anchor", "middle")
      .attr("dy", "0.35em")
      .style("font-size", p.fs + "px")
      .text(p.yLabel);
  }

  if (p.legend) {
    var lg = p.legend;
    var leg = g.append("g")
      .attr("transform", `translate(${p.width - lg.right - lg.w},${lg.top})`);
    leg.append("rect")
      .attr("width", lg.w).attr("height", lg.h)
      .attr("rx", 3)
      .attr("fill", "#fff").attr("fill-opacity", 0.8)
      .attr("stroke", "#ccc");
    var item = leg.selectAll(".item")
      .data(groups)
      .enter().append("g")
      .attr("class", "item")
      .attr("transform", (d, i) => `translate(0,${lg.row0 + i * lg.step})`);
    item.append("circle")
      .attr("cx", lg.mx).attr("r", p.r)
      .attr("fill", (d, i) => i ? orange : green)
      .attr("fill-opacity", 0.58)
      .attr("stroke", "#000").attr("stroke-opacity", 0.6);
    item.append("text")
      .attr("x", lg.tx).attr("dy", "0.36em")
      .style("font-size", p.fs + "px")
      .text(d => d);
  }
}

// row layouts
var topRow = {
  lefts: [66, 353.5, 644, 934], top: 68, width: 225, height: 295,
  yDomain: [-2.375, 2.106], yTicks: yTicksMem, yFormat: d3.format(".1f"),
  fs: 13.3, r: 5, lw: 2.5, tick: 4.5, xPad: 5, yPad: 3,
  titleY: -9, xLabelY: 38.5, yLabelX: -48
};
var bottomRow = {
  lefts: [56, 346, 634, 924], top: 481, width: 233, height: 289,
  yDomain: [-3.2, 1.726], yTicks: yTicksExec, yFormat: d3.format("d"),
  fs: 14.8, r: 5.3, lw: 2.7, tick: 5.5, xPad: 3.5, yPad: 5,
  titleY: -13, xLabelY: 37, yLabelX: -36
};

var memPanels = [
  {cu: memActualCU, mci: memActualMCI, regCU: memActualRegCU, regMCI: memActualRegMCI, xDomain: [58.75, 94.0], xTicks: xTicksAge},
  {cu: memFwCU, mci: memFwMCI, regCU: memFwRegCU, regMCI: memFwRegMCI, xDomain: [58.85, 90.03], xTicks: xTicksAge},
  {cu: memT1CU, mci: memT1MCI, regCU: memT1RegCU, regMCI: memT1RegMCI, xDomain: [50.4, 84.1], xTicks: [60, 70, 80]},
  {cu: memBothCU, mci: memBothMCI, regCU: memBothRegCU, regMCI: memBothRegMCI, xDomain: [59.9, 92.2], xTicks: xTicksAge}
];
var execPanels = [
  {cu: execActualCU, mci: execActualMCI, regCU: execActualRegCU, regMCI: execActualRegMCI, xDomain: [58.6, 94.0], xTicks: xTicksAge},
  {cu: execFwCU, mci: execFwMCI, regCU: execFwRegCU, regMCI: execFwRegMCI, xDomain: [58.95, 90.0], xTicks: xTicksAge},
  {cu: execT1CU, mci: execT1MCI, regCU: execT1RegCU, regMCI: execT1RegMCI, xDomain: [51.3, 84.6], xTicks: [60, 70, 80]},
  {cu: execBothCU, mci: execBothMCI, regCU: execBothRegCU, regMCI: execBothRegMCI, xDomain: [59.9, 91.7], xTicks: xTicksAge}
];

memPanels.forEach(function(d, i) {
  drawPanel(Object.assign({}, topRow, d, {
    left: topRow.lefts[i],
    pText: pTextsMem[i],
    xLabel: xLabels[i],
    yLabel: i === 0 ? "Memory Score" : null,
    legend: i === 3 ? {w: 74, h: 43, right: 8, top: 7, row0: 12, step: 19, mx: 14, tx: 39} : null
  }));
});

execPanels.forEach(function(d, i) {
  drawPanel(Object.assign({}, bottomRow, d, {
    left: bottomRow.lefts[i],
    pText: pTextsExec[i],
    xLabel: xLabels[i],
    yLabel: i === 0 ? "Executive Function Score" : null,
    legend: i === 3 ? {w: 81, h: 47, right: 8, top: 6, row0: 14, step: 21, mx: 17, tx: 42} : null
  }));
});
</script>
</body>
</html>
